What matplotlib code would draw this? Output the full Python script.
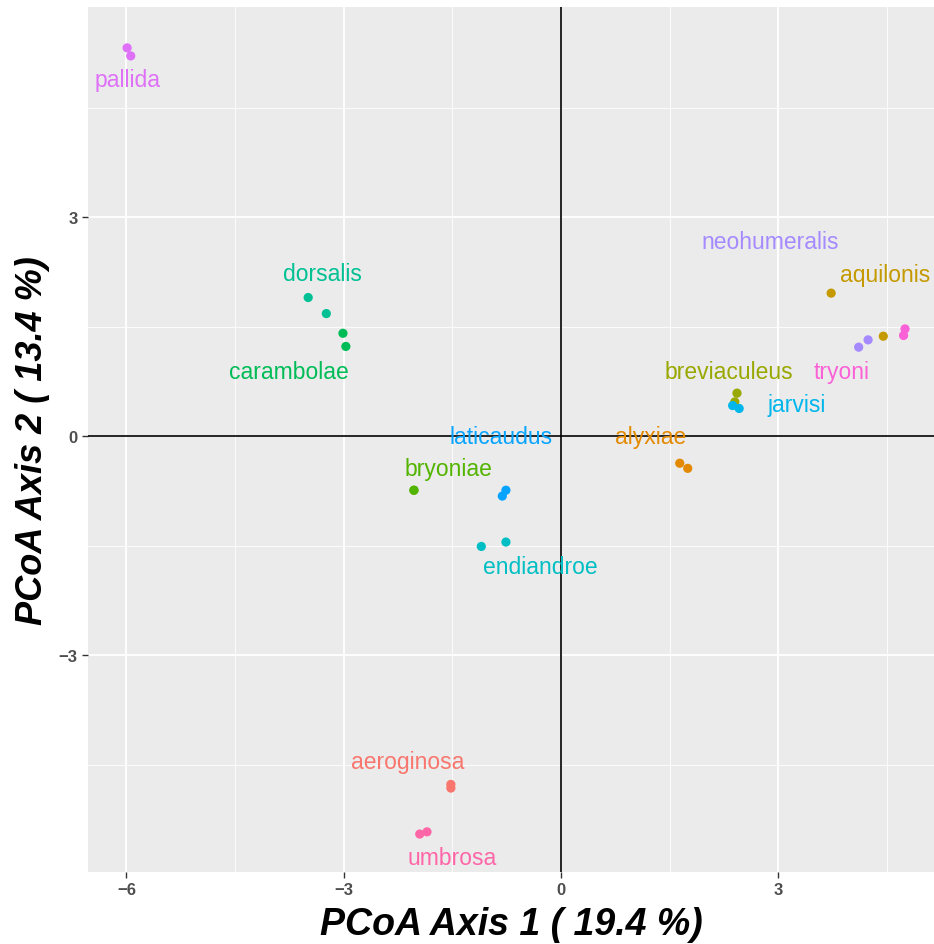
import matplotlib
matplotlib.use("Agg")
import matplotlib.pyplot as plt

species = ["aeroginosa", "alyxiae", "aquilonis", "breviaculeus", "bryoniae",
           "carambolae", "dorsalis", "endiandroe", "jarvisi", "laticaudus",
           "neohumeralis", "pallida", "tryoni", "umbrosa"]
colors = ["#F8766D", "#E38900", "#C49A00", "#99A800", "#53B400", "#00BC56",
          "#00C094", "#00BFC4", "#00B6EB", "#06A4FF", "#A58AFF", "#DF70F8",
          "#FB61D7", "#FF66A8"]

# two samples per species (PCoA axis 1, axis 2)
pc1 = {
    "aeroginosa": [-1.52, -1.52], "alyxiae": [1.64, 1.75], "aquilonis": [3.73, 4.45],
    "breviaculeus": [2.43, 2.40], "bryoniae": [-2.03, -2.03], "carambolae": [-3.01, -2.97],
    "dorsalis": [-3.49, -3.24], "endiandroe": [-1.10, -0.76], "jarvisi": [2.37, 2.46],
    "laticaudus": [-0.76, -0.81], "neohumeralis": [4.11, 4.24], "pallida": [-5.99, -5.94],
    "tryoni": [4.75, 4.73], "umbrosa": [-1.95, -1.85],
}
pc2 = {
    "aeroginosa": [-4.77, -4.82], "alyxiae": [-0.37, -0.44], "aquilonis": [1.96, 1.37],
    "breviaculeus": [0.59, 0.47], "bryoniae": [-0.74, -0.74], "carambolae": [1.41, 1.23],
    "dorsalis": [1.90, 1.68], "endiandroe": [-1.51, -1.45], "jarvisi": [0.42, 0.38],
    "laticaudus": [-0.74, -0.82], "neohumeralis": [1.22, 1.32], "pallida": [5.32, 5.21],
    "tryoni": [1.47, 1.38], "umbrosa": [-5.45, -5.42],
}
# label anchor positions (data units)
label_x = {
    "aeroginosa": -2.11, "alyxiae": 1.24, "aquilonis": 4.47, "breviaculeus": 2.32,
    "bryoniae": -1.55, "carambolae": -3.75, "dorsalis": -3.29, "endiandroe": -0.28,
    "jarvisi": 3.26, "laticaudus": -0.83, "neohumeralis": 2.89, "pallida": -5.98,
    "tryoni": 3.87, "umbrosa": -1.50,
}
label_y = {
    "aeroginosa": -4.45, "alyxiae": 0.0, "aquilonis": 2.22, "breviaculeus": 0.89,
    "bryoniae": -0.44, "carambolae": 0.89, "dorsalis": 2.23, "endiandroe": -1.78,
    "jarvisi": 0.44, "laticaudus": 0.0, "neohumeralis": 2.67, "pallida": 4.89,
    "tryoni": 0.89, "umbrosa": -5.77,
}

x_ticks = [-6, -3, 0, 3]
y_ticks = [-3, 0, 3]
x_tick_labels = ["\u22126", "\u22123", "0", "3"]
y_tick_labels = ["\u22123", "0", "3"]
x_label = "PCoA Axis 1 ( 19.4 %)"
y_label = "PCoA Axis 2 ( 13.4 %)"

fig = plt.figure(figsize=(9.34, 9.45), dpi=100)
ax = fig.add_axes([88/934, 72/945, 846/934, 865/945])
ax.set_facecolor("#EBEBEB")
for s in ax.spines.values():
    s.set_visible(False)

ax.set_xlim(-6.53, 5.15)
ax.set_ylim(-5.97, 5.88)

ax.set_xticks(x_ticks)
ax.set_yticks(y_ticks)
ax.set_xticks([-4.5, -1.5, 1.5, 4.5], minor=True)
ax.set_yticks([-4.5, -1.5, 1.5, 4.5], minor=True)
ax.grid(which="major", color="white", linewidth=1.3)
ax.grid(which="minor", color="white", linewidth=0.6)
ax.set_axisbelow(True)
ax.tick_params(which="minor", length=0)
ax.tick_params(which="major", length=4.5, width=1, color="#333333", pad=3)
ax.set_xticklabels(x_tick_labels, fontfamily="Liberation Sans",
                   fontweight="bold", fontsize=12, color="#4D4D4D")
ax.set_yticklabels(y_tick_labels, fontfamily="Liberation Sans",
                   fontweight="bold", fontsize=12, color="#4D4D4D")

ax.axvline(0, color="black", linewidth=1.2, zorder=1.5)
ax.axhline(0, color="black", linewidth=1.2, zorder=1.5)

for sp, c in zip(species, colors):
    ax.scatter(pc1[sp], pc2[sp], s=44, color=c, edgecolors="none", zorder=3)
    ax.text(label_x[sp], label_y[sp], sp, color=c, fontsize=16.5,
            fontfamily="Liberation Sans", ha="center", va="center", zorder=4)

ax.set_xlabel(x_label, fontfamily="Liberation Sans", fontweight="bold",
              style="italic", fontsize=27, labelpad=6)
ax.set_ylabel(y_label, fontfamily="Liberation Sans", fontweight="bold",
              style="italic", fontsize=26, labelpad=6)

fig.savefig("out.png", dpi=100)
